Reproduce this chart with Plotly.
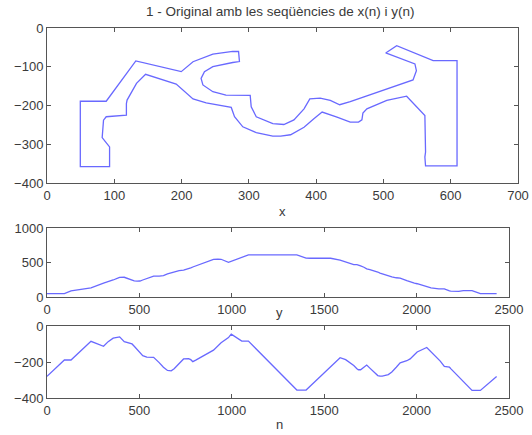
import plotly.graph_objects as go

# Contour vertices, traversed clockwise from the left edge of the shape
n_idx = [0, 94, 130, 238, 306, 331, 358, 386, 393, 418, 428, 460, 472, 488, 503,
         518, 540, 577, 607, 630, 652, 672, 688, 715, 739, 766, 778, 789, 805, 901,
         925, 942, 982, 997, 1054, 1090, 1352, 1402, 1425, 1438, 1535, 1586, 1616,
         1649, 1660, 1677, 1685, 1697, 1715, 1730, 1747, 1769, 1790, 1802, 1814,
         1847, 1866, 1890, 1911, 1947, 1965, 1988, 2003, 2055, 2078, 2120, 2128,
         2150, 2178, 2186, 2228, 2240, 2253, 2300, 2345, 2433]
x_n = [49.5, 49.5, 88, 132, 199.5, 217, 246.5, 276, 284.7, 286, 276, 246.5, 234,
       229, 231.7, 246.5, 266, 302, 303.5, 311, 335.6, 352, 367, 382, 390.6, 406,
       421, 435, 450.7, 544, 549, 546.8, 503.4, 519.7, 573.9, 609.4, 609.4, 562.6,
       561.6, 562.6, 561.6, 534.5, 505, 475.4, 469.5, 468, 463, 450.7, 431, 408.9,
       396.6, 382, 362, 347.3, 335.6, 311, 291, 278.7, 273.8, 236.6, 217, 202, 192,
       146.5, 133, 119, 118, 118, 88, 84, 82, 87, 93, 93, 49.5, 49.5]
y_n = [-280, -189, -189, -85, -112.6, -87, -67.5, -60.6, -60.6, -86.6, -89, -99.6,
       -112.6, -130, -147, -164.5, -173, -174, -203.5, -229, -246.8, -249, -237,
       -208.6, -183, -181, -187, -198, -189.7, -134, -110, -92.7, -64.4, -45.5, -84,
       -84, -356, -356, -333, -320, -225.8, -176, -187, -208.6, -219.7, -237, -243,
       -243, -230, -217, -234, -256, -275.5, -279, -279, -270, -255, -229, -205,
       -193, -183, -160, -144.6, -119.5, -143, -186, -195, -225, -229, -238, -283,
       -294, -307, -357.6, -357.6, -280]

W, H = 532, 435
LINE = dict(color="rgb(105,105,255)", width=1.3)
FONT = dict(family="Liberation Sans, Arial, sans-serif", size=13, color="#3a3a3a")
TITLE_FONT = dict(family="Liberation Sans, Arial, sans-serif", size=13.5, color="#3a3a3a")

fig = go.Figure()
fig.add_trace(go.Scatter(x=x_n, y=y_n, mode="lines", line=LINE, xaxis="x", yaxis="y"))
fig.add_trace(go.Scatter(x=n_idx, y=x_n, mode="lines", line=LINE, xaxis="x2", yaxis="y2"))
fig.add_trace(go.Scatter(x=n_idx, y=y_n, mode="lines", line=LINE, xaxis="x3", yaxis="y3"))


def px_x(p):
    return p / W


def px_y(p):
    return 1 - p / H


ax_common = dict(showgrid=False, zeroline=False, showline=True, linecolor="#555555",
                 linewidth=1, mirror="ticks", ticks="inside", ticklen=4,
                 tickcolor="#555555", tickfont=FONT, fixedrange=True,
                 automargin=False)

fig.update_layout(
    width=W, height=H, autosize=False,
    margin=dict(l=0, r=0, t=0, b=0, pad=0, autoexpand=False),
    paper_bgcolor="white", plot_bgcolor="white",
    showlegend=False,
    font=FONT,
    xaxis=dict(domain=[px_x(47), px_x(518)], range=[0, 700], dtick=100,
               anchor="y", **ax_common),
    yaxis=dict(domain=[px_y(183), px_y(28)], range=[-400, 0], dtick=100,
               anchor="x", **ax_common),
    xaxis2=dict(domain=[px_x(47), px_x(509)], range=[0, 2500], dtick=500,
                anchor="y2", **ax_common),
    yaxis2=dict(domain=[px_y(297), px_y(228)], range=[0, 1000], dtick=500,
                anchor="x2", **ax_common),
    xaxis3=dict(domain=[px_x(47), px_x(509)], range=[0, 2500], dtick=500,
                anchor="y3", **ax_common),
    yaxis3=dict(domain=[px_y(398), px_y(326)], range=[-400, 0], dtick=200,
                anchor="x3", **ax_common),
    annotations=[
        dict(text="1 - Original amb les seqüències de x(n) i y(n)", x=px_x(280),
             y=px_y(11), xref="paper", yref="paper", showarrow=False,
             font=TITLE_FONT, xanchor="center", yanchor="middle"),
        dict(text="x", x=px_x(282), y=px_y(211), xref="paper", yref="paper",
             showarrow=False, font=FONT, xanchor="center", yanchor="middle"),
        dict(text="y", x=px_x(279), y=px_y(312), xref="paper", yref="paper",
             showarrow=False, font=FONT, xanchor="center", yanchor="middle"),
        dict(text="n", x=px_x(279), y=px_y(424), xref="paper", yref="paper",
             showarrow=False, font=FONT, xanchor="center", yanchor="middle"),
    ],
)

fig.write_html("out.html")
